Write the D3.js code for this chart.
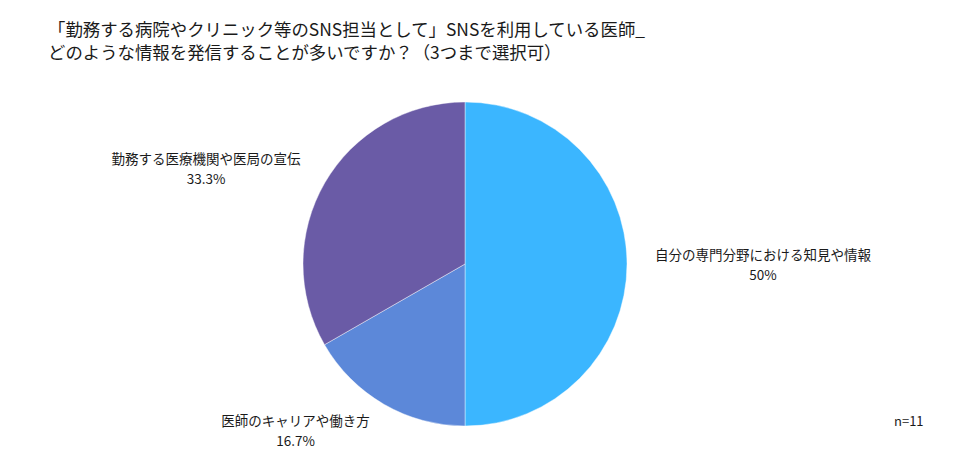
<!DOCTYPE html>
<html><head><meta charset="utf-8">
<script src="https://cdn.jsdelivr.net/npm/d3@7"></script>
<style>
html,body{margin:0;padding:0;background:#fff;}
text{font-family:"Noto Sans CJK JP","Noto Sans",sans-serif;fill:#1a1a1a;}
</style></head><body>
<svg id="c" width="976" height="459"></svg>
<script>
const titleLines = ["「勤務する病院やクリニック等のSNS担当として」SNSを利用している医師_", "どのような情報を発信することが多いですか？（3つまで選択可）"];
const categories = ["自分の専門分野における知見や情報", "医師のキャリアや働き方", "勤務する医療機関や医局の宣伝"];
const values = [50, 16.7, 33.3];
const colors = ["#3bb6ff", "#5c88d9", "#6a5ba6"];
const note = "n=11";

const svg = d3.select("#c");
const cx = 465, cy = 264, r = 162;

const t = svg.append("text").attr("x", 48).attr("y", 36).style("font-size", "17.4px");
titleLines.forEach((l, i) => t.append("tspan").attr("x", 48).attr("y", 36 + i * 23).text(l));

const pie = d3.pie().sort(null).value(d => d)(values);
const arc = d3.arc().innerRadius(0).outerRadius(r);
const g = svg.append("g").attr("transform", `translate(${cx},${cy})`);
g.selectAll("path").data(pie).join("path")
  .attr("d", arc).attr("fill", (d, i) => colors[i])
  .attr("stroke", "#ffffff").attr("stroke-width", 0.6).attr("stroke-opacity", 0.7);

pie.forEach((d, i) => {
  const a = (d.startAngle + d.endAngle) / 2;
  const sx = Math.sin(a), cyA = -Math.cos(a);
  const edgeX = sx * 190;
  const midY = cyA * 192;
  const lg = g.append("g");
  const t1 = lg.append("text").attr("text-anchor", "middle").style("font-size", "13.5px").attr("y", midY - 4).text(categories[i]);
  const t2 = lg.append("text").attr("text-anchor", "middle").style("font-size", "13.5px").attr("y", midY + 16).text(values[i] + "%");
  const w = Math.max(t1.node().getComputedTextLength(), t2.node().getComputedTextLength());
  const centerX = sx >= 0 ? edgeX + w / 2 : edgeX - w / 2;
  t1.attr("x", centerX); t2.attr("x", centerX);
});

svg.append("text").attr("x", 894).attr("y", 426).style("font-size", "13px").text(note);
</script></body></html>
